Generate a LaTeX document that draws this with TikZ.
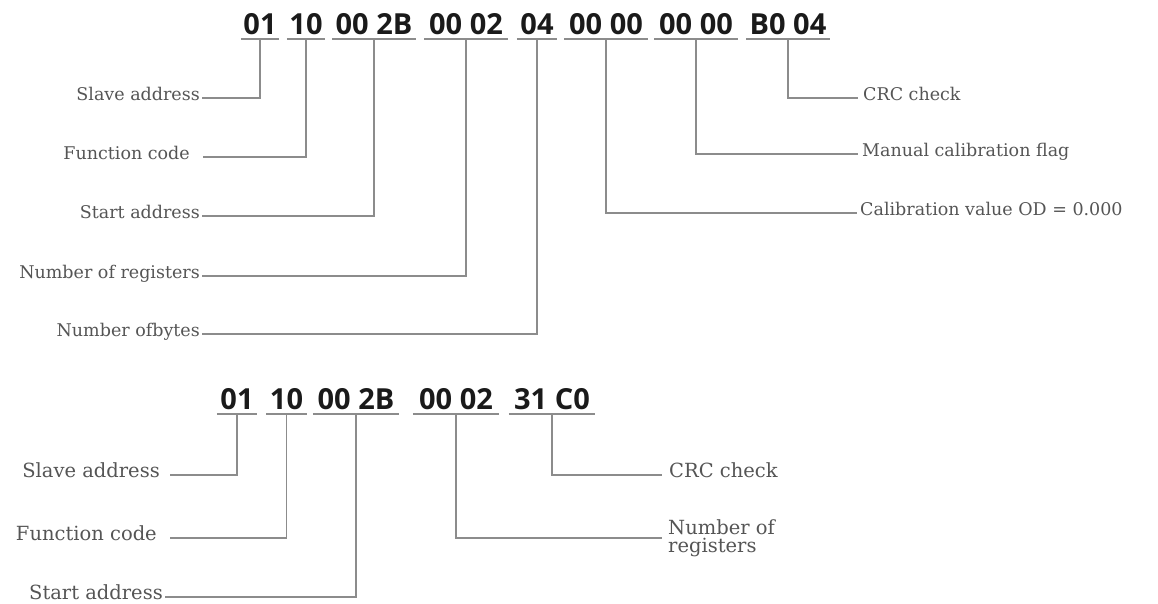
\documentclass[tikz,border=0pt]{standalone}
\usepackage{fontspec}
\setmainfont{DejaVu Serif}
\newfontfamily\bytefont{Open Sans}
\definecolor{bytecol}{HTML}{1A1A1A}
\definecolor{labcol}{HTML}{555555}
\definecolor{linecol}{HTML}{8C8C8C}
\begin{document}
\begin{tikzpicture}[x=1pt,y=-1pt,
  byte/.style={font=\bytefont\bfseries\fontsize{29}{29}\selectfont, text=bytecol, inner sep=0pt, anchor=base},
  two/.style={minimum width=38pt},
  four/.style={minimum width=83pt},
  uline/.style={draw=linecol, line width=2pt},
  conn/.style={draw=linecol, line width=1.8pt},
  lab/.style={font=\fontsize{17.5}{20}\selectfont, text=labcol, inner sep=0pt},
  labb/.style={font=\fontsize{19.5}{18}\selectfont, text=labcol, inner sep=0pt},
]
\useasboundingbox (0,0) rectangle (1158,604);

% ---------- top frame ----------
\node[byte,two]  (t1) at (260,35) {01};
\node[byte,two]  (t2) at (306,35) {10};
\node[byte,four] (t3) at (374,35) {00 2B};
\node[byte,four] (t4) at (466,35) {00 02};
\node[byte,two,minimum width=40pt] (t5) at (537,35) {04};
\node[byte,four] (t6) at (606,35) {00 00};
\node[byte,four] (t7) at (696,35) {00 00};
\node[byte,four] (t8) at (788,35) {B0 04};
\foreach \n in {t1,t2,t3,t4,t5,t6,t7,t8}
  \draw[uline] ([yshift=-4pt]\n.base west) -- ([yshift=-4pt]\n.base east);

\node[lab,anchor=mid east] (l1) at (200,98)  {Slave address};
\node[lab,anchor=mid east] (l2) at (190,157) {Function code};
\node[lab,anchor=mid east] (l3) at (200,216) {Start address};
\node[lab,anchor=mid east] (l4) at (200,276) {Number of registers};
\node[lab,anchor=mid east] (l5) at (200,334) {Number ofbytes};

\node[lab,anchor=mid west] (r1) at (863,98)  {CRC check};
\node[lab,anchor=mid west] (r2) at (862,154) {Manual calibration flag};
\node[lab,anchor=mid west] (r3) at (860,213) {Calibration value OD = 0.000};

\draw[conn] ([yshift=-4pt]t1.base) |- ([xshift=2pt]l1.mid east);
\draw[conn] ([yshift=-4pt]t2.base) |- ([xshift=13pt]l2.mid east);
\draw[conn] ([yshift=-4pt]t3.base) |- ([xshift=2pt]l3.mid east);
\draw[conn] ([yshift=-4pt]t4.base) |- ([xshift=2pt]l4.mid east);
\draw[conn] ([yshift=-4pt]t5.base) |- ([xshift=2pt]l5.mid east);
\draw[conn] ([yshift=-4pt]t8.base) |- ([xshift=-5pt]r1.mid west);
\draw[conn] ([yshift=-4pt]t7.base) |- ([xshift=-4pt]r2.mid west);
\draw[conn] ([yshift=-4pt]t6.base) |- ([xshift=-3pt]r3.mid west);

% ---------- bottom frame ----------
\node[byte,minimum width=40pt] (b1) at (237,409) {01};
\node[byte,minimum width=40pt] (b2) at (286.5,409) {10};
\node[byte,minimum width=86pt] (b3) at (356,409) {00 2B};
\node[byte,minimum width=86pt] (b4) at (456,409) {00 02};
\node[byte,minimum width=86pt] (b5) at (552,409) {31 C0};
\foreach \n in {b1,b2,b3,b4,b5}
  \draw[uline] ([yshift=-5pt]\n.base west) -- ([yshift=-5pt]\n.base east);

\node[labb,anchor=mid east] (m1) at (160,475) {Slave address};
\node[labb,anchor=mid east] (m2) at (157,538) {Function code};
\node[labb,anchor=mid east] (m3) at (163,597) {Start address};
\node[labb,anchor=mid west] (n1) at (669,475) {CRC check};
\node[labb,anchor=west,align=left] (n2) at (668,538) {Number of\\registers};

\draw[conn] ([yshift=-5pt]b1.base) |- ([xshift=10pt]m1.mid east);
\draw[conn] ([yshift=-5pt]b2.base) |- ([xshift=13pt]m2.mid east);
\draw[conn] ([yshift=-5pt]b3.base) |- ([xshift=2pt]m3.mid east);
\draw[conn] ([yshift=-5pt]b5.base) |- ([xshift=-7pt]n1.mid west);
\draw[conn] ([yshift=-5pt]b4.base) |- ([xshift=-6pt]n2.west);
\end{tikzpicture}
\end{document}
